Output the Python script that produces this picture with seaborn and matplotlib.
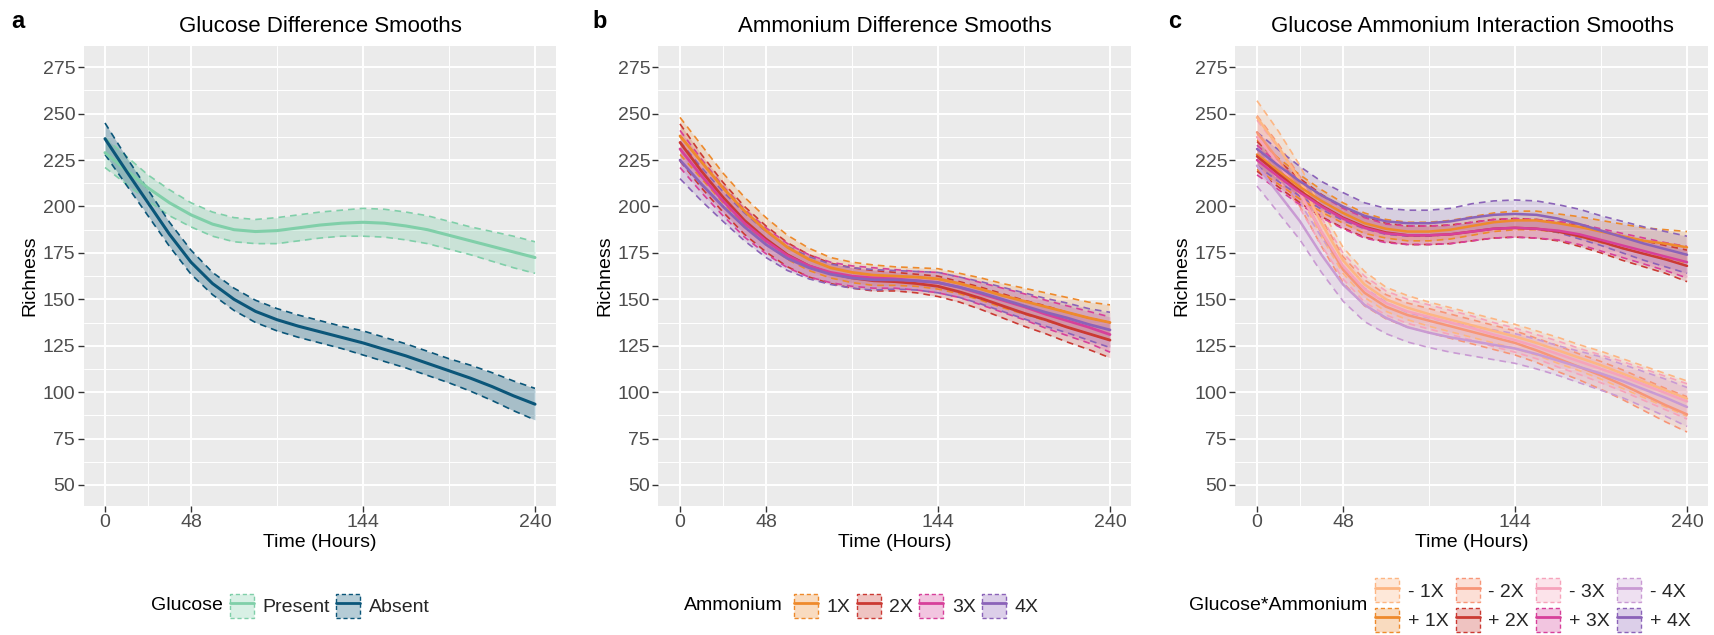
import numpy as np
import pandas as pd
import matplotlib
matplotlib.use("Agg")
import matplotlib.pyplot as plt
import seaborn as sns
from matplotlib.patches import Patch
from matplotlib.lines import Line2D
from matplotlib.colors import to_rgba
from matplotlib.ticker import FixedLocator

# ---------------- data ----------------
time_hours = [0, 12, 24, 36, 48, 60, 72, 84, 96, 108, 120, 132, 144, 156, 168, 180, 192, 204, 216, 228, 240]
x_ticks = [0, 48, 144, 240]
y_ticks = [50, 75, 100, 125, 150, 175, 200, 225, 250, 275]

# Panel a: glucose
glucose_levels = ["Present", "Absent"]
present_mean = [229, 219.5, 210, 202, 195.5, 190.5, 187.5, 186.5, 187, 188.5, 190, 191, 191.5, 191, 189.5, 187.5, 184.5, 181.5, 178.5, 175.5, 172.5]
present_half = [8, 7.5, 7, 7, 6.5, 6.5, 6.5, 6.5, 7, 7, 7, 7, 7.5, 7.5, 7.5, 7.5, 7.5, 7.5, 8, 8.5, 8.5]
absent_mean = [236.5, 219, 202, 185, 170, 158.5, 150, 143.5, 139, 135.5, 132.5, 129.5, 126.5, 123, 119.5, 115.5, 111.5, 107.5, 103, 98, 93.5]
absent_half = [8.5, 7.5, 7, 6.5, 6.5, 6, 6, 6, 6, 6, 6, 6, 6.5, 6.5, 6.5, 6.5, 6.5, 7, 7.5, 8, 8.5]

# Panel b: ammonium
ammonium_levels = ["1X", "2X", "3X", "4X"]
amm1_mean = [238, 224, 210, 197.5, 187, 178, 171.5, 167, 164.5, 163, 162.5, 162, 161, 158.5, 155.5, 152, 149, 146, 143, 140, 137.5]
amm2_mean = [234.5, 219, 205, 192.5, 182.5, 174, 168, 164, 161.5, 160, 159.5, 158.5, 157, 154, 150.5, 146.5, 142.5, 139, 135, 131.5, 128]
amm3_mean = [231, 216.5, 203, 191, 181.5, 173.5, 168, 164.5, 162.5, 161.5, 161, 160, 159, 156.5, 153, 149.5, 146, 142, 138.5, 135, 131]
amm4_mean = [225, 212, 200, 189, 179.5, 172, 167, 163.5, 161.5, 160.5, 160.5, 160, 159, 156.5, 153.5, 150, 146.5, 143, 140, 136.5, 133.5]
amm_half = [10, 9, 8, 7.5, 7, 6.5, 6, 5.5, 5.5, 5.5, 5, 5, 5.5, 5.5, 6, 6.5, 7, 7.5, 8, 8.5, 9.5]

# Panel c: glucose * ammonium
interaction_levels = ["- 1X", "+ 1X", "- 2X", "+ 2X", "- 3X", "+ 3X", "- 4X", "+ 4X"]
plus1_mean = [228, 219, 210.5, 203, 196.5, 191, 188, 186.5, 186.5, 187.5, 189.5, 191.5, 192.5, 192.5, 191, 189, 186.5, 184, 181.5, 180, 178]
plus2_mean = [227, 217.5, 208.5, 200.5, 194, 189, 186, 184.5, 184.5, 185, 186.5, 188, 188.5, 188, 186.5, 184, 181, 177.5, 174.5, 171.5, 168]
plus3_mean = [225, 216, 207.5, 200, 193.5, 188.5, 185.5, 184.5, 184.5, 185, 186.5, 188, 188.5, 188, 187, 185, 182, 179, 176, 173, 170]
plus4_mean = [231, 222, 213.5, 206, 200, 195, 192, 191, 191, 192, 194, 195.5, 196, 195.5, 193.5, 190.5, 187, 183.5, 180, 177, 174]
plus_half = [8, 7, 6.5, 6, 5.5, 5.5, 5, 5, 5, 5, 5, 5, 5, 5, 5, 5.5, 6, 6.5, 7, 7.5, 8.5]
plus4_half = [9, 8.5, 8, 7.5, 7.5, 7, 7, 7, 7, 7, 7.5, 7.5, 7.5, 7.5, 7.5, 8, 8, 8.5, 9, 9.5, 10]
minus1_mean = [248, 232, 214, 191, 171, 158, 150, 145.5, 142, 139, 136, 133, 130, 126.5, 122.5, 118.5, 114.5, 110, 105.5, 101, 96.5]
minus2_mean = [240, 225, 208, 186, 166, 153.5, 146, 141.5, 138.5, 135.5, 132.5, 129.5, 126.5, 122.5, 118, 113.5, 109, 104, 98.5, 93, 88]
minus3_mean = [237.5, 223, 207, 186.5, 168, 155.5, 148, 143.5, 140.5, 137.5, 134.5, 131, 128, 124.5, 120.5, 116.5, 112.5, 108.5, 104, 99.5, 95]
minus4_mean = [222, 207, 192, 174, 158, 147, 140, 135, 132, 129.5, 127.5, 125.5, 123.5, 120.5, 117, 113.5, 110, 106, 101.5, 97, 92]
minus_half = [9, 8.5, 8, 7.5, 7, 7, 6.5, 6.5, 6.5, 6.5, 6.5, 6.5, 6.5, 6.5, 7, 7, 7.5, 8, 8.5, 9, 9.5]
minus4_half = [11, 10.5, 10, 9.5, 9, 9, 8.5, 8, 8, 8, 8, 8, 8, 8, 8, 8.5, 9, 9, 9.5, 10, 10.5]

# ---------------- styling ----------------
glucose_colors = {"Present": "#80cfa9", "Absent": "#0b5679"}
ammonium_colors = {"1X": "#ee8a2c", "2X": "#cb3a33", "3X": "#d7409a", "4X": "#8b63b8"}
interaction_colors = {"- 1X": "#fdb683", "- 2X": "#f79678", "- 3X": "#f6a3bb", "- 4X": "#c99ad3",
                      "+ 1X": "#ee8a2c", "+ 2X": "#cb3a33", "+ 3X": "#d7409a", "+ 4X": "#8b63b8"}

panels = [
    dict(letter="a", title="Glucose Difference Smooths", legend_title="Glucose",
         levels=glucose_levels, colors=glucose_colors,
         means={"Present": present_mean, "Absent": absent_mean},
         halves={"Present": present_half, "Absent": absent_half},
         alpha=0.3, lw=2.2, legend_order=glucose_levels, ncol=2),
    dict(letter="b", title="Ammonium Difference Smooths", legend_title="Ammonium",
         levels=ammonium_levels, colors=ammonium_colors,
         means={"1X": amm1_mean, "2X": amm2_mean, "3X": amm3_mean, "4X": amm4_mean},
         halves={k: amm_half for k in ammonium_levels},
         alpha=0.2, lw=2.0, legend_order=ammonium_levels, ncol=4),
    dict(letter="c", title="Glucose Ammonium Interaction Smooths", legend_title="Glucose*Ammonium",
         levels=["- 1X", "- 2X", "- 3X", "- 4X", "+ 1X", "+ 2X", "+ 3X", "+ 4X"],
         colors=interaction_colors,
         means={"- 1X": minus1_mean, "- 2X": minus2_mean, "- 3X": minus3_mean, "- 4X": minus4_mean,
                "+ 1X": plus1_mean, "+ 2X": plus2_mean, "+ 3X": plus3_mean, "+ 4X": plus4_mean},
         halves={"- 1X": minus_half, "- 2X": minus_half, "- 3X": minus_half, "- 4X": minus4_half,
                 "+ 1X": plus_half, "+ 2X": plus_half, "+ 3X": plus_half, "+ 4X": plus4_half},
         alpha=0.2, lw=1.8, legend_order=interaction_levels, ncol=4),
]

sns.set_theme(style="darkgrid")
plt.rcParams['font.family'] = ['Liberation Sans', 'DejaVu Sans']

W, H = 1715, 635
fig = plt.figure(figsize=(W / 100, H / 100), dpi=100)
fig.patch.set_facecolor("white")

panel_left_px = [83.5, 658.5, 1235.5]
panel_w_px = 473.0
panel_top_px, panel_bot_px = 46.4, 505.8
letter_x_px = [17.5, 600, 1175]
legend_key_x_px = [230, 794, 1375]
legend_y_px = [606, 606, 605]
legend_title_gap_px = [7, 11, 8]

t = np.array(time_hours, dtype=float)

for i, p in enumerate(panels):
    left = panel_left_px[i]
    ax = fig.add_axes([left / W, 1 - panel_bot_px / H, panel_w_px / W, (panel_bot_px - panel_top_px) / H])
    ax.set_facecolor("#EBEBEB")
    for s in ax.spines.values():
        s.set_visible(False)

    # ribbons (all first, like a ggplot ribbon layer)
    for lvl in p["levels"]:
        c = p["colors"][lvl]
        m = np.array(p["means"][lvl])
        h = np.array(p["halves"][lvl])
        ax.fill_between(t, m - h, m + h, color=c, alpha=p["alpha"], lw=0, zorder=2)
        ax.plot(t, m - h, color=c, lw=1.2, dashes=(4, 3), zorder=3)
        ax.plot(t, m + h, color=c, lw=1.2, dashes=(4, 3), zorder=3)

    # smooth lines through seaborn
    rows = []
    for lvl in p["levels"]:
        for tt, v in zip(time_hours, p["means"][lvl]):
            rows.append((tt, v, lvl))
    df = pd.DataFrame(rows, columns=["Time", "Richness", "Group"])
    sns.lineplot(data=df, x="Time", y="Richness", hue="Group", hue_order=p["levels"],
                 palette=p["colors"], estimator=None, errorbar=None, legend=False,
                 linewidth=p["lw"], ax=ax, zorder=4)

    ax.set_xlim(-12, 252)
    ax.set_ylim(38.75, 286.25)
    ax.set_xticks(x_ticks)
    ax.set_yticks(y_ticks)
    ax.xaxis.set_minor_locator(FixedLocator([24, 96, 192]))
    ax.yaxis.set_minor_locator(FixedLocator([62.5, 87.5, 112.5, 137.5, 162.5, 187.5, 212.5, 237.5, 262.5]))
    ax.grid(True, which="major", color="white", lw=1.4, zorder=0)
    ax.grid(True, which="minor", color="white", lw=0.7, zorder=0)
    ax.set_axisbelow(True)
    ax.tick_params(axis="both", which="major", length=4, width=1.0, color="#333333",
                   labelsize=14, labelcolor="#4D4D4D", pad=2, bottom=True, left=True)
    ax.tick_params(axis="both", which="minor", length=0)

    ax.set_xlabel("Time (Hours)", fontsize=14, color="black")
    ax.set_ylabel("Richness", fontsize=14, color="black")
    ax.xaxis.set_label_coords(0.5, -(542.5 - panel_bot_px) / (panel_bot_px - panel_top_px))
    ax.xaxis.label.set_va("center")
    ax.yaxis.set_label_coords(-53.5 / panel_w_px, 0.5)
    ax.yaxis.label.set_va("center")

    fig.text((left + panel_w_px / 2) / W, 1 - 27 / H, p["title"], ha="center", va="center",
             fontsize=16, color="black")
    fig.text(letter_x_px[i] / W, 1 - 21 / H, p["letter"], ha="center", va="center",
             fontsize=17, fontweight="bold", color="black")

    # legend
    handles = []
    for lvl in p["legend_order"]:
        c = p["colors"][lvl]
        patch = Patch(facecolor=to_rgba(c, 0.3), edgecolor=c, linestyle=(0, (3, 2)), linewidth=1.0)
        line = Line2D([], [], color=c, lw=2)
        handles.append((patch, line))
    kx = legend_key_x_px[i]
    ky = legend_y_px[i]
    fig.legend(handles, p["legend_order"], loc="center left",
               bbox_to_anchor=(kx / W, 1 - ky / H), ncol=p["ncol"], frameon=False,
               borderpad=0, borderaxespad=0, handlelength=1.24, handleheight=1.53,
               handletextpad=0.45, columnspacing=0.3 if i < 2 else 0.36,
               labelspacing=0.27, fontsize=14)
    fig.text((kx - legend_title_gap_px[i]) / W, 1 - ky / H, p["legend_title"], ha="right",
             va="center", fontsize=14, color="black")

fig.savefig("out.png", dpi=100, facecolor="white")
